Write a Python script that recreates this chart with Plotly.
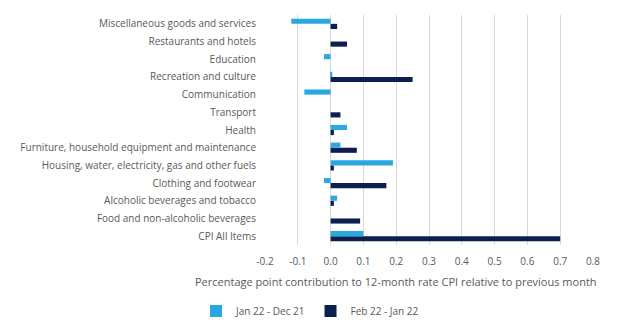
import plotly.graph_objects as go

# Categories listed bottom to top (Plotly draws the first category at the bottom)
categories = [
    "CPI All Items",
    "Food and non-alcoholic beverages",
    "Alcoholic beverages and tobacco",
    "Clothing and footwear",
    "Housing, water, electricity, gas and other fuels",
    "Furniture, household equipment and maintenance",
    "Health",
    "Transport",
    "Communication",
    "Recreation and culture",
    "Education",
    "Restaurants and hotels",
    "Miscellaneous goods and services",
]

jan22_dec21 = [0.10, 0.0, 0.02, -0.02, 0.19, 0.03, 0.05, 0.0, -0.08, 0.005, -0.02, 0.0, -0.12]
feb22_jan22 = [0.70, 0.09, 0.01, 0.17, 0.01, 0.08, 0.01, 0.03, 0.0, 0.25, 0.0, 0.05, 0.02]

x_ticks = [-0.2, -0.1, 0.0, 0.1, 0.2, 0.3, 0.4, 0.5, 0.6, 0.7, 0.8]
x_tick_text = [f"{v:.1f}" for v in x_ticks]

LIGHT = "#2aa8e0"
DARK = "#0c1f4e"
TEXT = "#595959"
FONT = "Open Sans, Liberation Sans, sans-serif"

fig = go.Figure()
# Dark series first so it sits below the light one within each category
fig.add_trace(go.Bar(
    y=categories, x=feb22_jan22, orientation="h", name="Feb 22 - Jan 22",
    marker=dict(color=DARK, line=dict(width=0)), legendrank=2,
))
fig.add_trace(go.Bar(
    y=categories, x=jan22_dec21, orientation="h", name="Jan 22 - Dec 21",
    marker=dict(color=LIGHT, line=dict(width=0)), legendrank=1,
))

fig.update_layout(
    width=634, height=336,
    margin=dict(l=265, r=41, t=15, b=91),
    paper_bgcolor="white", plot_bgcolor="white",
    barmode="group", bargap=0.42, bargroupgap=0.0,
    font=dict(family=FONT, size=10, color=TEXT),
    showlegend=True,
    legend=dict(
        orientation="h", x=196 / 634, y=25 / 336, xref="container", yref="container",
        xanchor="left", yanchor="middle",
        font=dict(size=10, color=TEXT),
        traceorder="normal",
    ),
    xaxis=dict(
        range=[-0.2, 0.8], tickvals=x_ticks, ticktext=x_tick_text,
        showgrid=True, gridcolor="#d9d9d9", gridwidth=1,
        zeroline=False, showline=False, ticks="",
        ticklabelstandoff=9,
        tickfont=dict(size=10, color=TEXT),
    ),
    yaxis=dict(
        showgrid=False, zeroline=False, showline=False, ticks="",
        ticklabelstandoff=8,
        tickfont=dict(size=10, color=TEXT),
    ),
    annotations=[dict(
        text="Percentage point contribution to 12-month rate CPI relative to previous month",
        xref="paper", yref="paper", x=(396 - 265) / 328, y=-36 / 230,
        xanchor="center", yanchor="middle", showarrow=False,
        font=dict(size=11, color=TEXT, family=FONT),
    )],
)

fig.write_html("out.html")
